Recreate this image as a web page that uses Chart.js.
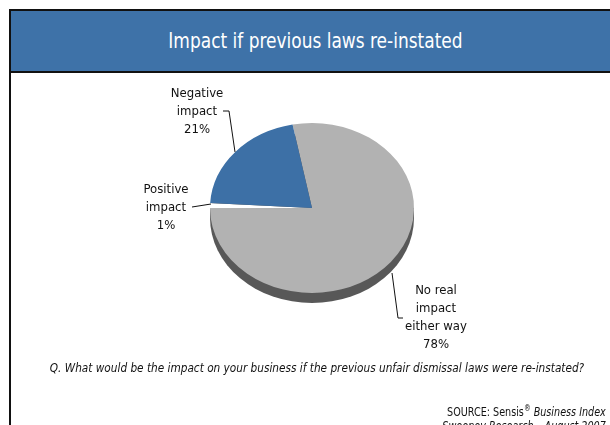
<!DOCTYPE html>
<html>
<head>
<meta charset="utf-8">
<script src="https://cdn.jsdelivr.net/npm/chart.js@4/dist/chart.umd.min.js"></script>
<style>
  body { margin: 0; width: 610px; height: 425px; overflow: hidden; background: #fff; position: relative; font-family: "DejaVu Sans Condensed", "DejaVu Sans", sans-serif; }
  #frame { position: absolute; left: 9px; top: 10px; width: 620px; height: 430px; border-left: 2px solid #111; }
  #head { position: absolute; left: 9px; top: 9px; width: 620px; height: 60px; background: #3e72a8; border: 2px solid #111; border-right: none; color: #fff; font-size: 21px; line-height: 60px; text-align: center; box-sizing: content-box; }
  #head span { display: inline-block; position: relative; left: -6px; transform: scaleX(0.9); }
  #question { position: absolute; left: 0; width: 634px; top: 360px; text-align: center; font-style: italic; font-size: 13px; color: #111; transform: scaleX(0.9); transform-origin: 317px 0; }
  #source { position: absolute; right: 4px; top: 402px; text-align: right; font-size: 11.5px; line-height: 14px; color: #111; transform: scaleX(0.93); transform-origin: right top; }
  #source i { font-style: italic; }
  canvas { position: absolute; left: 0; top: 0; }
</style>
</head>
<body>
<div id="frame"></div>
<div id="head"><span>Impact if previous laws re-instated</span></div>
<canvas id="pie" width="610" height="425"></canvas>
<div id="question">Q. What would be the impact on your business if the previous unfair dismissal laws were re-instated?</div>
<div id="source">SOURCE: Sensis<sup style="font-size:8px">®</sup> <i>Business Index</i><br><i>Sweeney Research – August 2007</i></div>
<script>
// slices, clockwise from the top-left edge of the blue slice
const labels = [["No real", "impact", "either way"], ["Positive", "impact"], ["Negative", "impact"]];
const values = [78, 1, 21];
const colors = ["#b2b2b2", "#ffffff", "#3d70a6"];
const offsets = [0, 4, 0];

// label positions (centre of first text line) and leader lines
const labelPos = [[436, 291], [166, 190], [197, 94]];
const leaders = [
  [[392, 273], [398, 318], [403, 318]],
  [[211, 204], [192, 207]],
  [[235, 152], [229, 111], [223, 111]]
];

const cx = 312, cy = 208, R = 102, squash = 0.833, depth = 10;

const tilt = {
  id: "tilt",
  beforeDatasetsDraw(chart) {
    const ctx = chart.ctx;
    // pie side
    ctx.save();
    ctx.fillStyle = "#585858";
    ctx.beginPath();
    ctx.ellipse(cx, cy + depth, R, R * squash, 0, 0, Math.PI * 2);
    ctx.fill();
    ctx.fillRect(cx - R, cy, R * 2, depth);
    ctx.restore();
    ctx.save();
    ctx.translate(cx, cy);
    ctx.scale(1, squash);
    ctx.translate(-cx, -cy);
  },
  afterDatasetsDraw(chart) {
    const ctx = chart.ctx;
    ctx.restore();
    ctx.save();
    ctx.strokeStyle = "#111";
    ctx.lineWidth = 1;
    leaders.forEach(l => {
      ctx.beginPath();
      ctx.moveTo(l[0][0], l[0][1]);
      for (let i = 1; i < l.length; i++) ctx.lineTo(l[i][0], l[i][1]);
      ctx.stroke();
    });
    ctx.fillStyle = "#111";
    ctx.font = '13px "DejaVu Sans Condensed", "DejaVu Sans", sans-serif';
    ctx.textAlign = "center";
    ctx.textBaseline = "middle";
    const total = values.reduce((a, b) => a + b, 0);
    labels.forEach((lines, i) => {
      const all = lines.concat([Math.round(values[i] / total * 100) + "%"]);
      all.forEach((t, j) => ctx.fillText(t, labelPos[i][0], labelPos[i][1] + j * 18));
    });
    ctx.restore();
  }
};

const pad = 4;
new Chart(document.getElementById("pie"), {
  type: "pie",
  data: {
    labels: labels.map(l => l.join(" ")),
    datasets: [{
      data: values,
      backgroundColor: colors,
      borderWidth: 0,
      offset: offsets
    }]
  },
  options: {
    responsive: false,
    animation: false,
    rotation: -11,
    layout: {
      padding: {
        left: cx - R - pad / 2,
        right: 610 - cx - R - pad / 2,
        top: cy - R - pad / 2,
        bottom: 425 - cy - R - pad / 2
      }
    },
    plugins: { legend: { display: false }, tooltip: { enabled: false } }
  },
  plugins: [tilt]
});
</script>
</body>
</html>
